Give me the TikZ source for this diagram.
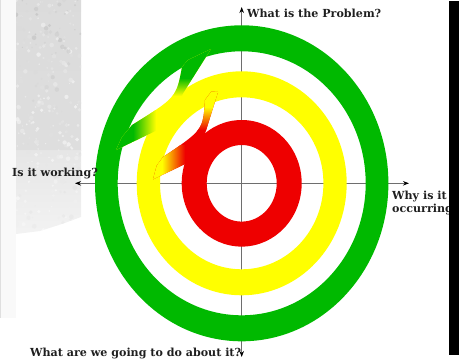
\documentclass[tikz,border=0pt]{standalone}
\usepackage{fontspec}
\setmainfont{DejaVu Serif}
\usetikzlibrary{arrows.meta}
\definecolor{rgreen}{RGB}{0,185,0}
\definecolor{ryellow}{RGB}{255,255,0}
\definecolor{rred}{RGB}{238,0,0}
\definecolor{rorange}{RGB}{255,120,0}
\tikzset{
  axisline/.style={draw={rgb,255:red,110;green,110;blue,110}, line width=1.3pt,
    {Stealth[length=6pt,width=4.5pt,color=black]}-{Stealth[length=6pt,width=4.5pt,color=black]}},
  lbl/.style={font=\fontsize{11.1}{13.3}\selectfont\bfseries, inner sep=0pt, text=black!88},
}
\begin{document}
\begin{tikzpicture}[x=1pt,y=-1pt]
\useasboundingbox (0,0) rectangle (459,362);
% left background texture
\fill[gray!5] (0,0) rectangle (16,318);
\draw[gray!25, line width=1.2pt] (0.6,0) -- (0.6,318);
\begin{scope}
\clip (16,0) -- (81,0) -- (81,217) -- (62,224) -- (40,231) -- (16,234) -- cycle;
\shade[top color=gray!28, bottom color=gray!26] (16,0) rectangle (81,150);
\shade[top color=gray!20, bottom color=gray!9] (16,150) rectangle (81,240);
\pgfmathsetseed{11}
\foreach \i in {1,...,320}{
  \pgfmathsetmacro{\xx}{16+65*rnd}
  \pgfmathsetmacro{\yy}{230*rnd}
  \pgfmathsetmacro{\rr}{0.6+1.8*rnd}
  \pgfmathsetmacro{\gg}{int((12+30*rnd)*(1.15-\yy/300))}
  \fill[gray!\gg, opacity=0.8] (\xx,\yy) circle (\rr);
}
\end{scope}
% axes
\coordinate (c) at (241.7,183.3);
\coordinate (axT) at (241.7,7);
\coordinate (axB) at (241.7,357);
\coordinate (axL) at (75,183.3);
\coordinate (axR) at (409,183.3);
\draw[axisline] (axT) -- (axB);
\draw[axisline] (axL) -- (axR);
% rings
\fill[rgreen, even odd rule] (c) ellipse [x radius=146.7, y radius=158] (c) ellipse [x radius=124, y radius=132];
\fill[ryellow, even odd rule] (c) ellipse [x radius=105, y radius=112] (c) ellipse [x radius=81.7, y radius=86];
\fill[rred, even odd rule] (c) ellipse [x radius=60, y radius=63.3] (c) ellipse [x radius=35, y radius=38.3];
% connector green -> yellow
\begin{scope}
\clip (211,49) -- (188,60) -- (182,67) .. controls (176.4,97.4) .. (132,125) -- (122,137) -- (116,150) -- (170,124) -- (183,93.4) -- cycle;
\fill[ryellow] (100,40) rectangle (230,170);
\fill[rgreen] (150,40) rectangle (225,78);
\shade[top color=rgreen, bottom color=ryellow] (150,78) rectangle (225,96);
\fill[rgreen] (100,110) rectangle (133,160);
\shade[left color=rgreen, right color=ryellow] (133,110) rectangle (156,160);
\end{scope}
% connector yellow -> red
\begin{scope}
\clip (218,92) -- (211.3,91.5) -- (205,100) .. controls (203,130) .. (163,157) -- (156.7,165.6) -- (153,179.4) -- (188,162.6) -- (204,137) -- cycle;
\fill[rred] (140,80) rectangle (230,190);
\fill[ryellow] (180,80) rectangle (230,107);
\shade[top color=ryellow, middle color=rorange, bottom color=rred] (180,107) rectangle (230,130);
\fill[ryellow] (140,145) rectangle (162,190);
\shade[left color=ryellow, middle color=rorange, right color=rred] (162,145) rectangle (185,190);
\end{scope}
% labels
\node[lbl, anchor=base west] (qT) at (247,17.7) {What is the Problem?};
\node[lbl, anchor=base west] (qL) at (12,176) {Is it working?};
\node[lbl, anchor=base west] (qB) at (30,356.7) {What are we going to do about it?};
\node[lbl, anchor=north west, align=left] (qR) at (392,190.5) {Why is it\\occurring?};
% right black bar
\fill[black] (449,1) rectangle (459,355);
\end{tikzpicture}
\end{document}
